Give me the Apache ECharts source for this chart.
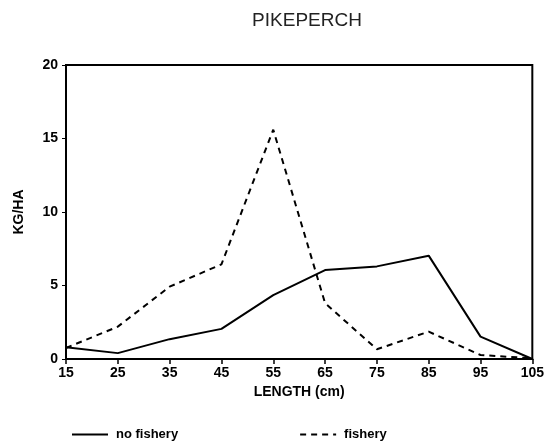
<!DOCTYPE html>
<html><head><meta charset="utf-8">
<script src="https://cdn.jsdelivr.net/npm/echarts@6/dist/echarts.min.js"></script>
<style>html,body{margin:0;padding:0;background:#fff}#c{width:547px;height:441px}</style>
</head><body><div id="c"></div>
<script>
const lengths = ['15','25','35','45','55','65','75','85','95','105'];
const noFishery = [0.8, 0.4, 1.35, 2.05, 4.35, 6.05, 6.3, 7.03, 1.52, 0.0];
const fishery = [0.75, 2.2, 4.92, 6.44, 15.6, 3.8, 0.66, 1.86, 0.27, 0.05];
const yTicks = {min: 0, max: 20, interval: 5};

const chart = echarts.init(document.getElementById('c'));
const font = 'Liberation Sans, Arial, sans-serif';
chart.setOption({
  animation: false,
  title: {
    text: 'PIKEPERCH', left: 302, top: 6, textAlign: 'center',
    textStyle: {fontFamily: font, fontSize: 19, fontWeight: 'normal', color: '#222'}
  },
  grid: {left: 66, right: 12, top: 65, bottom: 82, show: true, borderColor: '#000', borderWidth: 2},
  legend: {
    left: 66, top: 423, itemWidth: 36, itemHeight: 12, itemGap: 121,
    data: ['no fishery', 'fishery'],
    itemStyle: {opacity: 0},
    textStyle: {fontFamily: font, fontSize: 13, fontWeight: 'bold', color: '#000', padding: [0, 0, 0, 3]}
  },
  xAxis: {
    type: 'category', data: lengths, boundaryGap: false,
    name: 'LENGTH (cm)', nameLocation: 'middle', nameGap: 24,
    nameTextStyle: {fontFamily: font, fontSize: 14, fontWeight: 'bold', color: '#000'},
    axisLine: {lineStyle: {color: '#000', width: 2}},
    axisTick: {length: 5, lineStyle: {color: '#000', width: 1.5}},
    axisLabel: {fontFamily: font, fontSize: 14, fontWeight: 'bold', color: '#000', margin: 7},
    splitLine: {show: false}
  },
  yAxis: {
    type: 'value', min: yTicks.min, max: yTicks.max, interval: yTicks.interval,
    name: 'KG/HA', nameLocation: 'middle', nameGap: 40,
    nameTextStyle: {fontFamily: font, fontSize: 14, fontWeight: 'bold', color: '#000'},
    axisLine: {show: true, lineStyle: {color: '#000', width: 2}},
    axisTick: {show: true, length: 4, lineStyle: {color: '#000', width: 1}},
    axisLabel: {fontFamily: font, fontSize: 14, fontWeight: 'bold', color: '#000', margin: 8},
    splitLine: {show: false}
  },
  series: [
    {name: 'no fishery', type: 'line', data: noFishery, symbol: 'none',
     lineStyle: {color: '#000', width: 2, type: 'solid'}, itemStyle: {color: '#000'}},
    {name: 'fishery', type: 'line', data: fishery, symbol: 'none',
     lineStyle: {color: '#000', width: 2, type: [6, 5]}, itemStyle: {color: '#000'}}
  ]
});
</script></body></html>
